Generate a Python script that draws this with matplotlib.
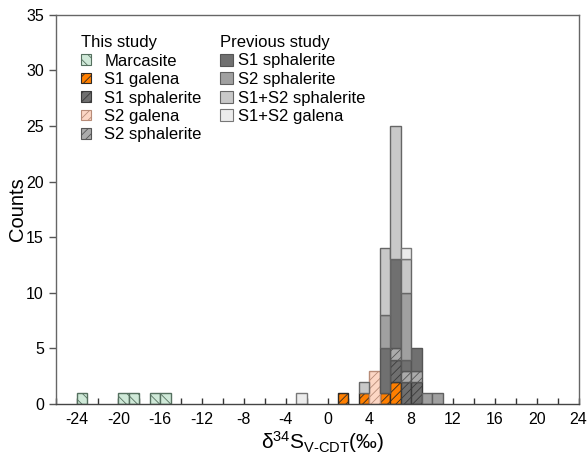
import matplotlib
matplotlib.use("Agg")
import matplotlib.pyplot as plt
import numpy as np
from matplotlib.patches import Patch

plt.rcParams['font.family'] = ['Liberation Sans', 'DejaVu Sans']
plt.rcParams['mathtext.fontset'] = 'custom'
plt.rcParams['mathtext.rm'] = 'Liberation Sans'
plt.rcParams['mathtext.it'] = 'Liberation Sans'
plt.rcParams['axes.unicode_minus'] = False
plt.rcParams['hatch.linewidth'] = 0.6

# bin left edges (bin width 1 permil)
bin_left = [-24, -20, -19, -17, -16, -3, 1, 3, 4, 5, 6, 7, 8, 9, 10]
# This study
marcasite    = [1, 1, 1, 1, 1, 0, 0, 0, 0, 0, 0, 0, 0, 0, 0]
s1_galena    = [0, 0, 0, 0, 0, 0, 1, 1, 0, 1, 2, 0, 0, 0, 0]
s1_sph_this  = [0, 0, 0, 0, 0, 0, 0, 0, 0, 0, 2, 2, 2, 0, 0]
s2_galena    = [0, 0, 0, 0, 0, 0, 0, 0, 3, 0, 0, 0, 0, 0, 0]
s2_sph_this  = [0, 0, 0, 0, 0, 0, 0, 0, 0, 0, 1, 1, 1, 0, 0]
# Previous study
s1_sph_prev  = [0, 0, 0, 0, 0, 0, 0, 0, 0, 4, 8, 1, 2, 0, 0]
s2_sph_prev  = [0, 0, 0, 0, 0, 0, 0, 0, 0, 3, 0, 6, 0, 1, 1]
s12_sph_prev = [0, 0, 0, 0, 0, 0, 0, 1, 0, 6, 12, 3, 0, 0, 0]
s12_gal_prev = [0, 0, 0, 0, 0, 1, 0, 0, 0, 0, 0, 1, 0, 0, 0]

this_labels = ['Marcasite', 'S1 galena', 'S1 sphalerite', 'S2 galena', 'S2 sphalerite']
prev_labels = ['S1 sphalerite', 'S2 sphalerite', 'S1+S2 sphalerite', 'S1+S2 galena']

x_ticks = [-24, -20, -16, -12, -8, -4, 0, 4, 8, 12, 16, 20, 24]
y_ticks = [0, 5, 10, 15, 20, 25, 30, 35]

styles = [
    dict(data=marcasite, fc='#cfe9d8', ec='#55705f', hatch='\\\\\\'),
    dict(data=s1_galena, fc='#ff7f00', ec='#2e2a26', hatch='////'),
    dict(data=s1_sph_this, fc='#6f6f6f', ec='#3a3a3a', hatch='////'),
    dict(data=s2_galena, fc='#fcd6c4', ec='#b88c78', hatch='////'),
    dict(data=s2_sph_this, fc='#ababab', ec='#555555', hatch='////'),
    dict(data=s1_sph_prev, fc='#707070', ec='#555555', hatch=None),
    dict(data=s2_sph_prev, fc='#a0a0a0', ec='#606060', hatch=None),
    dict(data=s12_sph_prev, fc='#c8c8c8', ec='#666666', hatch=None),
    dict(data=s12_gal_prev, fc='#ececec', ec='#777777', hatch=None),
]

fig = plt.figure(figsize=(5.88, 4.54), dpi=100)
ax = fig.add_axes([55.7 / 588, 0.110, (578.5 - 55.7) / 588, 0.8573])

left = np.array(bin_left, dtype=float)
bottom = np.zeros(len(left))
handles = []
for st in styles:
    h = np.array(st['data'], dtype=float)
    m = h > 0
    ax.bar(left[m], h[m], width=1.0, align='edge', bottom=bottom[m],
           facecolor=st['fc'], edgecolor=st['ec'], hatch=st['hatch'],
           linewidth=1.0, zorder=2)
    bottom += h
    handles.append(Patch(facecolor=st['fc'], edgecolor=st['ec'],
                         hatch=st['hatch'], linewidth=0.8))

ax.set_xlim(-26, 24)
ax.set_ylim(0, 35)
ax.set_xticks(x_ticks)
ax.set_xticks(np.arange(-26, 25, 2), minor=True)
ax.set_yticks(y_ticks)
ax.tick_params(axis='x', which='both', direction='in', length=4, width=1,
               color='#333333', labelsize=11.5, pad=6)
ax.tick_params(axis='y', which='both', direction='out', length=5, width=1,
               color='#555555', labelsize=11.5)
for sp in ax.spines.values():
    sp.set_color('#666666')
    sp.set_linewidth(1.0)
ax.spines['bottom'].set_color('#444444')

ax.set_ylabel('Counts', fontsize=14.5, labelpad=-0.5)
ax.set_xlabel(r'δ$^{34}$S$_{\mathrm{V\text{-}CDT}}$(‰)', fontsize=15, labelpad=-1.5)
ax.xaxis.set_label_coords(0.51, -0.065, transform=ax.transAxes)
ax.xaxis.label.set_va('top')

leg1 = fig.legend(handles[:5], this_labels, title='This study', loc='upper left',
                  bbox_to_anchor=(81 / 588, 1 - 35 / 454), frameon=False, fontsize=12,
                  title_fontsize=12, handlelength=0.6, handleheight=0.6,
                  handletextpad=0.8, labelspacing=0.21, borderaxespad=0,
                  borderpad=0)
leg1._legend_box.align = 'left'
leg2 = fig.legend(handles[5:], prev_labels, title='Previous study', loc='upper left',
                  bbox_to_anchor=(220 / 588, 1 - 35 / 454), frameon=False, fontsize=12,
                  title_fontsize=12, handlelength=0.75, handleheight=0.75,
                  handletextpad=0.3, labelspacing=0.21, borderaxespad=0,
                  borderpad=0)
leg2._legend_box.align = 'left'

fig.savefig('out.png', dpi=100)
